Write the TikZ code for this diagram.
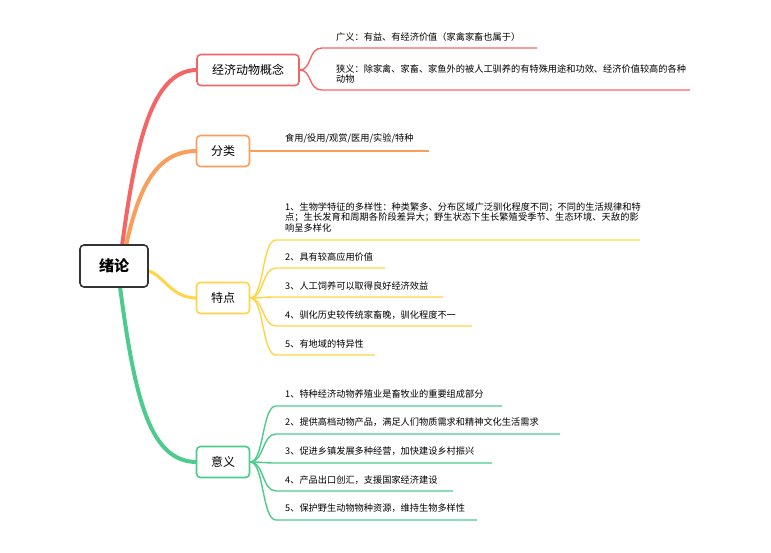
\documentclass[tikz,border=0pt]{standalone}
\usepackage{fontspec}
\setmainfont{Noto Sans CJK SC}
\XeTeXlinebreaklocale "zh"
\XeTeXlinebreakskip=0pt plus 1pt
\definecolor{cr}{HTML}{F46666}
\definecolor{co}{HTML}{FA9E5C}
\definecolor{cy}{HTML}{FFD447}
\definecolor{cg}{HTML}{4CCB8C}
\begin{document}
\begin{tikzpicture}[x=1pt,y=-1pt,
  branch/.style={draw=#1,line width=1.6pt,rounded corners=4pt,fill=white,font=\fontsize{12}{13}\selectfont,minimum height=31pt,minimum width=53pt},
  leaf/.style={anchor=west,font=\fontsize{9.2}{10.5}\selectfont,align=left,inner sep=0pt,text width=#1},
  link/.style={draw=#1,line width=1.4pt}]
\useasboundingbox (0,0) rectangle (771,552);
% trunks
\draw[cr,line width=4pt] (122,246) .. controls (135,150) and (150,70) .. (197,70);
\draw[co,line width=4pt] (126,246) .. controls (140,180) and (160,151) .. (197,151);
\draw[cy,line width=3pt] (146,270) .. controls (165,275) and (170,298) .. (197,298);
\draw[cg,line width=4pt] (120,287) .. controls (135,400) and (150,462) .. (197,462);
\node[draw=black!80,line width=1.6pt,rounded corners=4pt,fill=white,minimum width=68pt,minimum height=42pt,font=\fontsize{15}{17}\selectfont\bfseries] (root) at (114,266) {绪论};
\node[branch=cr,minimum width=102pt] (a) at (248,70) {经济动物概念};
\node[branch=co] (b) at (223,151) {分类};
\node[branch=cy] (c) at (223,298) {特点};
\node[branch=cg] (d) at (223,462) {意义};
% red leaves
\draw[link=cr] (a.east) .. controls (312,70) and (308,48) .. (322,48) -- (537,48);
\draw[link=cr] (a.east) .. controls (312,70) and (308,90) .. (322,90) -- (690,90);
\node[leaf=300pt] (a1) at (336,37) {广义：有益、有经济价值（家禽家畜也属于）};
\node[leaf=350pt] (a2) at (336,74) {狭义：除家禽、家畜、家鱼外的被人工驯养的有特殊用途和功效、经济价值较高的各种动物};
% orange
\draw[link=co] (b.east) -- (429,151);
\node[leaf=200pt] (b1) at (285,138) {食用/役用/观赏/医用/实验/特种};
% yellow
\foreach \y/\e in {240/640,268/385,297/443,326/472,355/375}{
  \draw[link=cy] (c.east) .. controls (264,298) and (262,\y) .. (276,\y) -- (\e,\y);}
\node[leaf=356pt] (c1) at (285,217) {1、生物学特征的多样性：种类繁多、分布区域广泛驯化程度不同；不同的生活规律和特点；生长发育和周期各阶段差异大；野生状态下生长繁殖受季节、生态环境、天敌的影响呈多样化};
\node[leaf=200pt] (c2) at (285,257) {2、具有较高应用价值};
\node[leaf=200pt] (c3) at (285,286) {3、人工饲养可以取得良好经济效益};
\node[leaf=250pt] (c4) at (285,315) {4、驯化历史较传统家畜晚，驯化程度不一};
\node[leaf=200pt] (c5) at (285,344) {5、有地域的特异性};
% green
\foreach \y/\e in {406/502,434/560,463/492,491/453,520/477}{
  \draw[link=cg] (d.east) .. controls (264,462) and (262,\y) .. (276,\y) -- (\e,\y);}
\node[leaf=260pt] (d1) at (285,394) {1、特种经济动物养殖业是畜牧业的重要组成部分};
\node[leaf=300pt] (d2) at (285,422) {2、提供高档动物产品，满足人们物质需求和精神文化生活需求};
\node[leaf=260pt] (d3) at (285,451) {3、促进乡镇发展多种经营，加快建设乡村振兴};
\node[leaf=260pt] (d4) at (285,480) {4、产品出口创汇，支援国家经济建设};
\node[leaf=260pt] (d5) at (285,508) {5、保护野生动物物种资源，维持生物多样性};
\end{tikzpicture}
\end{document}
